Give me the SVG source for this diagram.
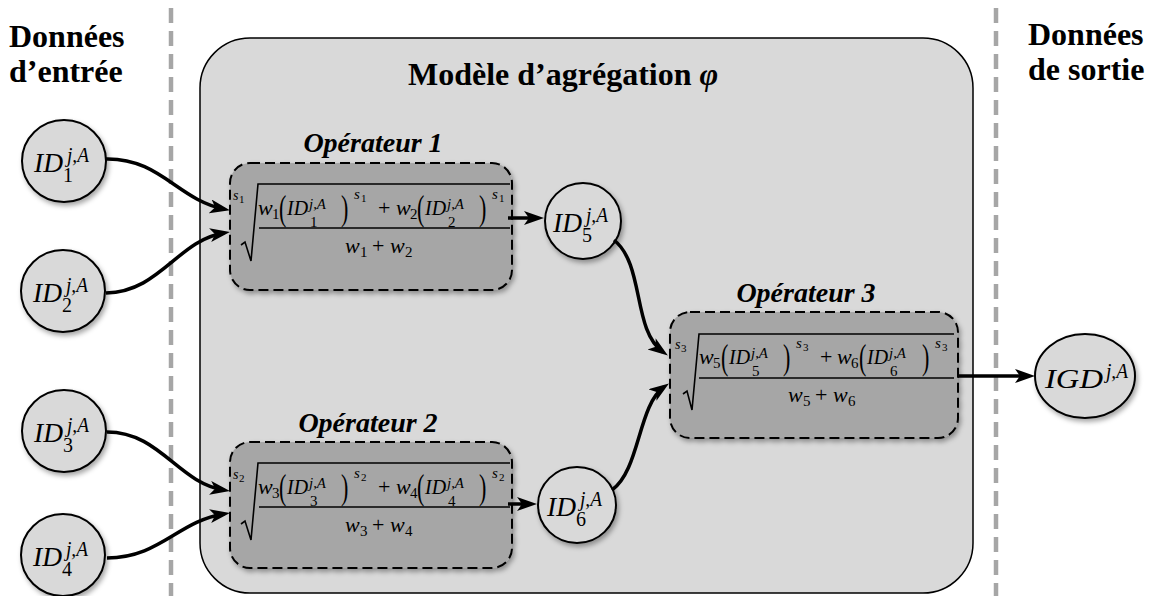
<svg xmlns="http://www.w3.org/2000/svg" width="1152" height="596" viewBox="0 0 1152 596">
<defs>
<filter id="sh" x="-20%" y="-20%" width="150%" height="150%">
<feDropShadow dx="2" dy="3" stdDeviation="2.5" flood-color="#000" flood-opacity="0.35"/>
</filter>
<marker id="ah" markerUnits="userSpaceOnUse" markerWidth="22" markerHeight="16" refX="14" refY="7" orient="auto">
<path d="M0,0 L20,7 L0,14 L5,7 Z" fill="#000"/>
</marker>
</defs>

<line x1="171" y1="8" x2="171" y2="596" stroke="#a6a6a6" stroke-width="4.5" stroke-dasharray="15 8"/>
<line x1="996" y1="8" x2="996" y2="596" stroke="#a6a6a6" stroke-width="4.5" stroke-dasharray="15 8"/>

<rect x="200" y="38" width="773" height="555" rx="50" fill="#d9d9d9" stroke="#000" stroke-width="1.5"/>
<text font-family="Liberation Serif" font-weight="bold" font-size="32" x="408" y="85">Modèle d’agrégation <tspan font-style="italic">φ</tspan></text>
<text font-family="Liberation Serif" font-weight="bold" font-size="32" x="9" y="47">Données</text>
<text font-family="Liberation Serif" font-weight="bold" font-size="32" x="9" y="82">d’entrée</text>
<text font-family="Liberation Serif" font-weight="bold" font-size="32" x="1028" y="45">Données</text>
<text font-family="Liberation Serif" font-weight="bold" font-size="32" x="1028" y="80">de sortie</text>
<text font-family="Liberation Serif" font-weight="bold" font-style="italic" font-size="28" text-anchor="middle" x="373" y="152">Opérateur 1</text>
<text font-family="Liberation Serif" font-weight="bold" font-style="italic" font-size="28" text-anchor="middle" x="368" y="432">Opérateur 2</text>
<text font-family="Liberation Serif" font-weight="bold" font-style="italic" font-size="28" text-anchor="middle" x="806" y="302">Opérateur 3</text>

<g id="op1">
<g transform="translate(230,163)">
<rect x="0" y="0" width="282" height="127" rx="20" fill="#a6a6a6" stroke="#000" stroke-width="2" stroke-dasharray="10 5" filter="url(#sh)"/>
<text font-family="Liberation Serif" font-style="italic" font-size="14" x="3" y="37">s</text><text font-family="Liberation Serif" font-size="11" x="9" y="40">1</text>
<path d="M11,82 L15,79 L21,98 L28,21 H280" fill="none" stroke="#000" stroke-width="1.6"/>
<text font-family="Liberation Serif" font-style="italic" font-size="22" x="28" y="52">w</text><text font-family="Liberation Serif" font-size="15" x="42" y="56">1</text>
<text font-family="Liberation Serif" font-size="22" transform="translate(49,57) scale(1,1.6)">(</text>
<text font-family="Liberation Serif" font-style="italic" font-size="22" x="57" y="52" textLength="21" lengthAdjust="spacingAndGlyphs">ID</text><text font-family="Liberation Serif" font-style="italic" font-size="15" x="79" y="46" textLength="17" lengthAdjust="spacingAndGlyphs">j,A</text><text font-family="Liberation Serif" font-size="15" x="80" y="64">1</text>
<text font-family="Liberation Serif" font-size="22" transform="translate(111,57) scale(1,1.6)">)</text>
<text font-family="Liberation Serif" font-style="italic" font-size="15" x="124" y="36">s</text><text font-family="Liberation Serif" font-size="11" x="131" y="39">1</text>
<text font-family="Liberation Serif" font-size="22" x="148" y="52">+</text>
<text font-family="Liberation Serif" font-style="italic" font-size="22" x="166" y="52">w</text><text font-family="Liberation Serif" font-size="15" x="180" y="56">2</text>
<text font-family="Liberation Serif" font-size="22" transform="translate(187,57) scale(1,1.6)">(</text>
<text font-family="Liberation Serif" font-style="italic" font-size="22" x="195" y="52" textLength="21" lengthAdjust="spacingAndGlyphs">ID</text><text font-family="Liberation Serif" font-style="italic" font-size="15" x="217" y="46" textLength="17" lengthAdjust="spacingAndGlyphs">j,A</text><text font-family="Liberation Serif" font-size="15" x="218" y="64">2</text>
<text font-family="Liberation Serif" font-size="22" transform="translate(249,57) scale(1,1.6)">)</text>
<text font-family="Liberation Serif" font-style="italic" font-size="15" x="262" y="36">s</text><text font-family="Liberation Serif" font-size="11" x="269" y="39">1</text>
<line x1="29" y1="65" x2="280" y2="65" stroke="#000" stroke-width="1.6"/>
<text font-family="Liberation Serif" font-style="italic" font-size="22" x="115" y="90">w</text><text font-family="Liberation Serif" font-size="15" x="130" y="94">1</text><text font-family="Liberation Serif" font-size="22" x="142" y="90">+</text><text font-family="Liberation Serif" font-style="italic" font-size="22" x="160" y="90">w</text><text font-family="Liberation Serif" font-size="15" x="175" y="94">2</text>
</g>
</g>

<g id="op2">
<g transform="translate(230,442)">
<rect x="0" y="0" width="282" height="126" rx="20" fill="#a6a6a6" stroke="#000" stroke-width="2" stroke-dasharray="10 5" filter="url(#sh)"/>
<text font-family="Liberation Serif" font-style="italic" font-size="14" x="3" y="37">s</text><text font-family="Liberation Serif" font-size="11" x="9" y="40">2</text>
<path d="M11,82 L15,79 L21,98 L28,21 H280" fill="none" stroke="#000" stroke-width="1.6"/>
<text font-family="Liberation Serif" font-style="italic" font-size="22" x="28" y="52">w</text><text font-family="Liberation Serif" font-size="15" x="42" y="56">3</text>
<text font-family="Liberation Serif" font-size="22" transform="translate(49,57) scale(1,1.6)">(</text>
<text font-family="Liberation Serif" font-style="italic" font-size="22" x="57" y="52" textLength="21" lengthAdjust="spacingAndGlyphs">ID</text><text font-family="Liberation Serif" font-style="italic" font-size="15" x="79" y="46" textLength="17" lengthAdjust="spacingAndGlyphs">j,A</text><text font-family="Liberation Serif" font-size="15" x="80" y="64">3</text>
<text font-family="Liberation Serif" font-size="22" transform="translate(111,57) scale(1,1.6)">)</text>
<text font-family="Liberation Serif" font-style="italic" font-size="15" x="124" y="36">s</text><text font-family="Liberation Serif" font-size="11" x="131" y="39">2</text>
<text font-family="Liberation Serif" font-size="22" x="148" y="52">+</text>
<text font-family="Liberation Serif" font-style="italic" font-size="22" x="166" y="52">w</text><text font-family="Liberation Serif" font-size="15" x="180" y="56">4</text>
<text font-family="Liberation Serif" font-size="22" transform="translate(187,57) scale(1,1.6)">(</text>
<text font-family="Liberation Serif" font-style="italic" font-size="22" x="195" y="52" textLength="21" lengthAdjust="spacingAndGlyphs">ID</text><text font-family="Liberation Serif" font-style="italic" font-size="15" x="217" y="46" textLength="17" lengthAdjust="spacingAndGlyphs">j,A</text><text font-family="Liberation Serif" font-size="15" x="218" y="64">4</text>
<text font-family="Liberation Serif" font-size="22" transform="translate(249,57) scale(1,1.6)">)</text>
<text font-family="Liberation Serif" font-style="italic" font-size="15" x="262" y="36">s</text><text font-family="Liberation Serif" font-size="11" x="269" y="39">2</text>
<line x1="29" y1="65" x2="280" y2="65" stroke="#000" stroke-width="1.6"/>
<text font-family="Liberation Serif" font-style="italic" font-size="22" x="115" y="90">w</text><text font-family="Liberation Serif" font-size="15" x="130" y="94">3</text><text font-family="Liberation Serif" font-size="22" x="142" y="90">+</text><text font-family="Liberation Serif" font-style="italic" font-size="22" x="160" y="90">w</text><text font-family="Liberation Serif" font-size="15" x="175" y="94">4</text>
</g>
</g>

<g id="op3">
<g transform="translate(670,312)">
<rect x="0" y="0" width="288" height="126" rx="20" fill="#a6a6a6" stroke="#000" stroke-width="2" stroke-dasharray="10 5" filter="url(#sh)"/>
<text font-family="Liberation Serif" font-style="italic" font-size="14" x="5" y="37">s</text><text font-family="Liberation Serif" font-size="11" x="11" y="40">3</text>
<path d="M13,82 L17,79 L22,98 L29,22 H284" fill="none" stroke="#000" stroke-width="1.6"/>
<text font-family="Liberation Serif" font-style="italic" font-size="22" x="29" y="52">w</text><text font-family="Liberation Serif" font-size="15" x="43" y="56">5</text>
<text font-family="Liberation Serif" font-size="22" transform="translate(51,57) scale(1,1.6)">(</text>
<text font-family="Liberation Serif" font-style="italic" font-size="22" x="59" y="52" textLength="21" lengthAdjust="spacingAndGlyphs">ID</text><text font-family="Liberation Serif" font-style="italic" font-size="15" x="81" y="46" textLength="17" lengthAdjust="spacingAndGlyphs">j,A</text><text font-family="Liberation Serif" font-size="15" x="82" y="64">5</text>
<text font-family="Liberation Serif" font-size="22" transform="translate(113,57) scale(1,1.6)">)</text>
<text font-family="Liberation Serif" font-style="italic" font-size="15" x="126" y="36">s</text><text font-family="Liberation Serif" font-size="11" x="133" y="39">3</text>
<text font-family="Liberation Serif" font-size="22" x="150" y="52">+</text>
<text font-family="Liberation Serif" font-style="italic" font-size="22" x="167" y="52">w</text><text font-family="Liberation Serif" font-size="15" x="181" y="56">6</text>
<text font-family="Liberation Serif" font-size="22" transform="translate(189,57) scale(1,1.6)">(</text>
<text font-family="Liberation Serif" font-style="italic" font-size="22" x="197" y="52" textLength="21" lengthAdjust="spacingAndGlyphs">ID</text><text font-family="Liberation Serif" font-style="italic" font-size="15" x="219" y="46" textLength="17" lengthAdjust="spacingAndGlyphs">j,A</text><text font-family="Liberation Serif" font-size="15" x="220" y="64">6</text>
<text font-family="Liberation Serif" font-size="22" transform="translate(252,57) scale(1,1.6)">)</text>
<text font-family="Liberation Serif" font-style="italic" font-size="15" x="265" y="36">s</text><text font-family="Liberation Serif" font-size="11" x="272" y="39">3</text>
<line x1="29" y1="66" x2="284" y2="66" stroke="#000" stroke-width="1.6"/>
<text font-family="Liberation Serif" font-style="italic" font-size="22" x="118" y="90">w</text><text font-family="Liberation Serif" font-size="15" x="133" y="94">5</text><text font-family="Liberation Serif" font-size="22" x="145" y="90">+</text><text font-family="Liberation Serif" font-style="italic" font-size="22" x="163" y="90">w</text><text font-family="Liberation Serif" font-size="15" x="178" y="94">6</text>
</g>
</g>

<g id="id1"><ellipse cx="64" cy="161" rx="42" ry="41" fill="#d9d9d9" stroke="#000" stroke-width="2" filter="url(#sh)"/><text font-family="Liberation Serif" font-style="italic" font-size="28" x="34" y="172" textLength="29" lengthAdjust="spacingAndGlyphs">ID</text><text font-family="Liberation Serif" font-style="italic" font-size="20" x="67" y="162" textLength="22" lengthAdjust="spacingAndGlyphs">j,A</text><text font-family="Liberation Serif" font-size="20" x="63" y="182">1</text></g>
<g id="id2"><ellipse cx="63" cy="291" rx="42" ry="41" fill="#d9d9d9" stroke="#000" stroke-width="2" filter="url(#sh)"/><text font-family="Liberation Serif" font-style="italic" font-size="28" x="33" y="302" textLength="29" lengthAdjust="spacingAndGlyphs">ID</text><text font-family="Liberation Serif" font-style="italic" font-size="20" x="66" y="292" textLength="22" lengthAdjust="spacingAndGlyphs">j,A</text><text font-family="Liberation Serif" font-size="20" x="62" y="312">2</text></g>
<g id="id3"><ellipse cx="64" cy="431" rx="42" ry="41" fill="#d9d9d9" stroke="#000" stroke-width="2" filter="url(#sh)"/><text font-family="Liberation Serif" font-style="italic" font-size="28" x="34" y="442" textLength="29" lengthAdjust="spacingAndGlyphs">ID</text><text font-family="Liberation Serif" font-style="italic" font-size="20" x="67" y="432" textLength="22" lengthAdjust="spacingAndGlyphs">j,A</text><text font-family="Liberation Serif" font-size="20" x="63" y="452">3</text></g>
<g id="id4"><ellipse cx="63" cy="555" rx="42" ry="41" fill="#d9d9d9" stroke="#000" stroke-width="2" filter="url(#sh)"/><text font-family="Liberation Serif" font-style="italic" font-size="28" x="33" y="566" textLength="29" lengthAdjust="spacingAndGlyphs">ID</text><text font-family="Liberation Serif" font-style="italic" font-size="20" x="66" y="556" textLength="22" lengthAdjust="spacingAndGlyphs">j,A</text><text font-family="Liberation Serif" font-size="20" x="62" y="576">4</text></g>
<g id="id5"><ellipse cx="583" cy="221" rx="38" ry="38" fill="#d9d9d9" stroke="#000" stroke-width="2" filter="url(#sh)"/><text font-family="Liberation Serif" font-style="italic" font-size="28" x="553" y="232" textLength="29" lengthAdjust="spacingAndGlyphs">ID</text><text font-family="Liberation Serif" font-style="italic" font-size="20" x="586" y="222" textLength="22" lengthAdjust="spacingAndGlyphs">j,A</text><text font-family="Liberation Serif" font-size="20" x="582" y="242">5</text></g>
<g id="id6"><ellipse cx="577" cy="505" rx="39" ry="38" fill="#d9d9d9" stroke="#000" stroke-width="2" filter="url(#sh)"/><text font-family="Liberation Serif" font-style="italic" font-size="28" x="547" y="516" textLength="29" lengthAdjust="spacingAndGlyphs">ID</text><text font-family="Liberation Serif" font-style="italic" font-size="20" x="580" y="506" textLength="22" lengthAdjust="spacingAndGlyphs">j,A</text><text font-family="Liberation Serif" font-size="20" x="576" y="526">6</text></g>
<g id="igd"><ellipse cx="1085" cy="376" rx="50" ry="42" fill="#d9d9d9" stroke="#000" stroke-width="2" filter="url(#sh)"/><text font-family="Liberation Serif" font-style="italic" font-size="28" x="1045" y="388" textLength="58" lengthAdjust="spacingAndGlyphs">IGD</text><text font-family="Liberation Serif" font-style="italic" font-size="20" x="1106" y="378" textLength="22" lengthAdjust="spacingAndGlyphs">j,A</text></g>

<g id="connectors" fill="none" stroke="#000" stroke-width="3.5" marker-end="url(#ah)">
<path d="M106,159 C160,158 178,200 224,209"/>
<path d="M106,293 C160,292 178,240 224,233"/>
<path d="M107,432 C160,432 178,483 224,490"/>
<path d="M107,558 C160,558 178,521 224,514"/>
<path d="M508,218 L538,218"/>
<path d="M508,504 L531,504"/>
<path d="M614,240 C645,265 632,330 663,352"/>
<path d="M612,490 C640,470 638,405 664,387"/>
<path d="M958,376 L1029,376"/>
</g>
</svg>
